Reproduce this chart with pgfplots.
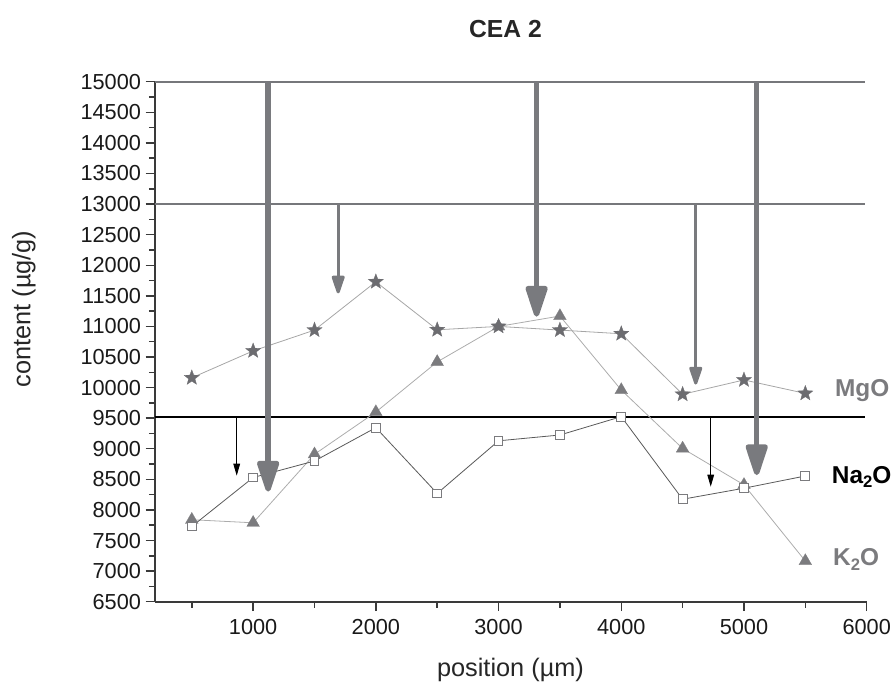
\documentclass[border=0pt]{standalone}
\usepackage{fontspec}
\setmainfont{Liberation Sans}
\usepackage{pgfplots}
\pgfplotsset{compat=1.18}
\usetikzlibrary{arrows.meta}

\definecolor{axisgray}{HTML}{3A3A3A}
\definecolor{linegray}{HTML}{76777B}
\definecolor{arrowgray}{HTML}{797A7E}
\definecolor{markgray}{HTML}{6C6C70}
\definecolor{tgray}{HTML}{7B7B7E}

% filled five-point star
\pgfdeclareplotmark{fstar}{%
  \pgfpathmoveto{\pgfpointpolar{90}{\pgfplotmarksize}}%
  \pgfpathlineto{\pgfpointpolar{126}{0.42\pgfplotmarksize}}%
  \pgfpathlineto{\pgfpointpolar{162}{\pgfplotmarksize}}%
  \pgfpathlineto{\pgfpointpolar{198}{0.42\pgfplotmarksize}}%
  \pgfpathlineto{\pgfpointpolar{234}{\pgfplotmarksize}}%
  \pgfpathlineto{\pgfpointpolar{270}{0.42\pgfplotmarksize}}%
  \pgfpathlineto{\pgfpointpolar{306}{\pgfplotmarksize}}%
  \pgfpathlineto{\pgfpointpolar{342}{0.42\pgfplotmarksize}}%
  \pgfpathlineto{\pgfpointpolar{18}{\pgfplotmarksize}}%
  \pgfpathlineto{\pgfpointpolar{54}{0.42\pgfplotmarksize}}%
  \pgfpathclose
  \pgfusepathqfillstroke}

\newcommand{\sub}[1]{\raisebox{-0.35ex}{\fontsize{12.5}{13}\selectfont #1}}

\begin{document}
\begin{tikzpicture}
\begin{axis}[
    scale only axis, width=533.8pt, height=390pt,
    xmin=200, xmax=6000, ymin=6500, ymax=15000,
    axis x line=bottom, axis y line=left,
    axis line style={-, line width=1.3pt, color=axisgray},
    tick align=outside,
    tick style={axisgray, line width=1.1pt},
    major tick length=7pt, minor tick length=4.5pt,
    xtick={1000,2000,3000,4000,5000,6000},
    minor xtick={500,1500,2500,3500,4500,5500},
    ytick distance=500, minor y tick num=1,
    scaled y ticks=false, scaled x ticks=false,
    /pgf/number format/1000 sep={},
    /pgf/number format/assume math mode=true,
    tick label style={font=\fontsize{16.3}{18}\selectfont, black!90},
    xticklabel style={yshift=-3pt},
    clip=false,
]
\coordinate (bl) at (rel axis cs:0,0);
\coordinate (tr) at (rel axis cs:1,1);

% reference levels
\addplot[linegray, line width=1.6pt] coordinates {(200,15000) (5985,15000)};
\addplot[linegray, line width=1.6pt] coordinates {(200,13000) (5985,13000)};
\addplot[black, line width=1.5pt] coordinates {(200,9520) (5985,9520)};

% K2O
\addplot[color=gray!65, line width=0.6pt, mark=triangle*, mark size=5.5pt,
  mark options={fill=tgray, draw=tgray, line width=0.2pt}] coordinates {
  (500,7840) (1000,7790) (1500,8910) (2000,9600) (2500,10420) (3000,11000)
  (3500,11170) (4000,9960) (4500,9005) (5000,8410) (5500,7165)};
% Na2O
\addplot[color=black!65, line width=0.6pt, mark=square*, mark size=3.3pt,
  mark options={fill=white, draw=tgray, line width=0.7pt}] coordinates {
  (500,7730) (1000,8530) (1500,8800) (2000,9345) (2500,8270) (3000,9130)
  (3500,9225) (4000,9525) (4500,8175) (5000,8355) (5500,8555)};
% MgO
\addplot[color=gray!70, line width=0.6pt, mark=fstar, mark size=6pt,
  mark options={fill=markgray, draw=markgray, line width=0.2pt}] coordinates {
  (500,10160) (1000,10600) (1500,10940) (2000,11730) (2500,10945) (3000,11000)
  (3500,10940) (4000,10880) (4500,9890) (5000,10125) (5500,9905)};

% arrows
\addplot[arrowgray, line width=4pt, -{Triangle[length=28pt, width=17pt, round]}]
  coordinates {(1122,15000) (1122,8300)};
\addplot[arrowgray, line width=4pt, -{Triangle[length=28pt, width=17pt, round]}]
  coordinates {(3310,15000) (3310,11160)};
\addplot[arrowgray, line width=4pt, -{Triangle[length=28pt, width=17pt, round]}]
  coordinates {(5104,15000) (5104,8570)};
\addplot[arrowgray, line width=2.3pt, -{Triangle[length=16pt, width=10pt, round]}]
  coordinates {(1693,13000) (1693,11540)};
\addplot[arrowgray, line width=2.3pt, -{Triangle[length=16pt, width=10pt, round]}]
  coordinates {(4607,13000) (4607,10050)};
\addplot[black, line width=0.7pt, -{Triangle[length=9pt, width=5pt]}]
  coordinates {(866,9520) (866,8560)};
\addplot[black, line width=0.7pt, -{Triangle[length=9pt, width=5pt]}]
  coordinates {(4729,9520) (4729,8380)};

% series names
\node[anchor=base west, inner sep=0pt, font=\fontsize{18.3}{20}\selectfont\bfseries, color=tgray]
  at (axis cs:5740,9851) {MgO};
\node[anchor=base west, inner sep=0pt, font=\fontsize{18.3}{20}\selectfont\bfseries, color=black]
  at (axis cs:5715,8440) {Na\sub{2}O};
\node[anchor=base west, inner sep=0pt, font=\fontsize{18.3}{20}\selectfont\bfseries, color=tgray]
  at (axis cs:5725,7084) {K\sub{2}O};

% title and axis labels
\node[anchor=base, font=\fontsize{18.5}{20}\selectfont\bfseries, color=black!85]
  at (axis cs:3056,15720) {CEA 2};
\node[anchor=base, font=\fontsize{19}{21}\selectfont, color=black!85]
  at (axis cs:3097,5274) {position (µm)};
\node[anchor=base, rotate=90, font=\fontsize{19}{21}\selectfont, color=black!85]
  at (axis cs:-815,11284) {content (µg/g)};
\end{axis}
\pgfresetboundingbox
\path ([xshift=-116.25pt, yshift=-59.5pt]bl) rectangle ([xshift=19pt, yshift=61.3pt]tr);
\end{tikzpicture}
\end{document}
